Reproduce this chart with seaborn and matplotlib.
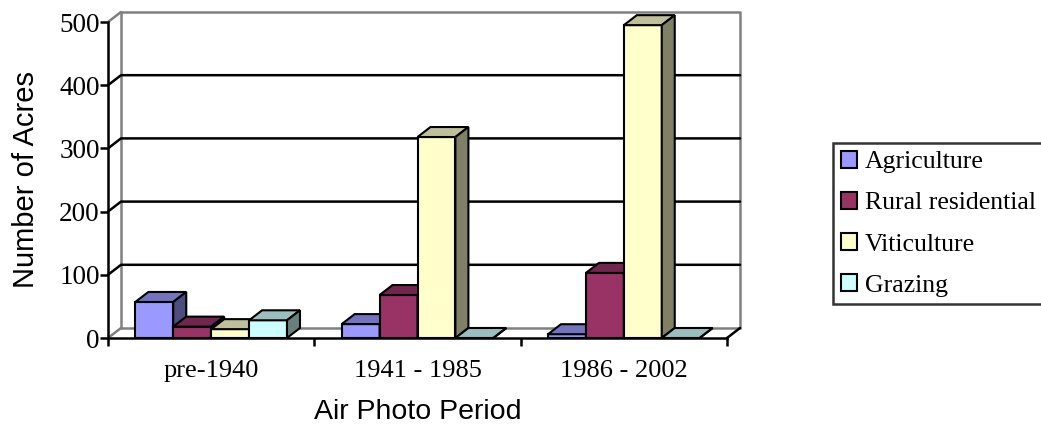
import numpy as np
import pandas as pd
import matplotlib
matplotlib.use('Agg')
import matplotlib.pyplot as plt
from matplotlib.patches import Polygon, Patch
import seaborn as sns

# values (acres)
periods = ['pre-1940', '1941 - 1985', '1986 - 2002']
uses = ['Agriculture', 'Rural residential', 'Viticulture', 'Grazing']
agriculture = [57, 22, 6]
rural_residential = [18, 68, 103]
viticulture = [14, 318, 495]
grazing = [28, 0, 0]

front_colors = ['#9999FF', '#993366', '#FFFFCC', '#CCFFFF']

df = pd.DataFrame({
    'period': periods * 4,
    'use': np.repeat(uses, 3),
    'acres': agriculture + rural_residential + viticulture + grazing,
})

sns.set_style('white')
plt.rcParams['font.family'] = ['Liberation Serif', 'DejaVu Serif']
for key in ['text.color', 'axes.labelcolor', 'xtick.color', 'ytick.color']:
    plt.rcParams[key] = 'black'

fig = plt.figure(figsize=(10.41, 4.28), dpi=100)
ax = fig.add_axes([108 / 1041, 90 / 428, 619 / 1041, 316 / 428])

sns.barplot(data=df, x='period', y='acres', hue='use', palette=front_colors,
            order=periods, hue_order=uses, width=0.735, edgecolor='black',
            linewidth=1.5, saturation=1, legend=False, ax=ax)

ax.set_xlim(-0.5, 2.5)
ax.set_ylim(0, 500)

# depth offset of the 3d box, in pixels -> data units
p0 = ax.transData.transform((0, 0))
back = ax.transData.inverted().transform(p0 + np.array([13, 10]))
DX, DY = back[0], back[1]

GREY = '#808080'
# back wall and floor
ax.plot([-0.5 + DX, -0.5 + DX, 2.5 + DX, 2.5 + DX], [DY, 500 + DY, 500 + DY, DY],
        color=GREY, lw=1.8, clip_on=False, zorder=1)
ax.plot([-0.5 + DX, 2.5 + DX], [DY, DY], color=GREY, lw=1.8, clip_on=False, zorder=1)
ax.plot([-0.5, -0.5 + DX], [0, DY], color=GREY, lw=1.8, clip_on=False, zorder=1)
ax.plot([-0.5, -0.5 + DX], [500, 500 + DY], color=GREY, lw=1.8, clip_on=False, zorder=1)
ax.plot([2.5, 2.5 + DX], [0, DY], color='black', lw=1.8, clip_on=False, zorder=1)
for v in [100, 200, 300, 400]:
    ax.plot([-0.5, -0.5 + DX, 2.5 + DX], [v, v + DY, v + DY],
            color='black', lw=1.8, clip_on=False, zorder=1)


def shade(c, f):
    r, g, b = matplotlib.colors.to_rgb(c)
    return (r * f, g * f, b * f)


# 3d tops and sides for each bar, drawn left to right
bars = sorted([p for p in ax.patches if isinstance(p, matplotlib.patches.Rectangle)],
              key=lambda p: p.get_x())
for i, bar in enumerate(bars):
    x0, w, h = bar.get_x(), bar.get_width(), bar.get_height()
    fc = bar.get_facecolor()
    z = 3 + i * 0.1
    bar.set_zorder(z)
    top = Polygon([(x0, h), (x0 + w, h), (x0 + w + DX, h + DY), (x0 + DX, h + DY)],
                  closed=True, facecolor=shade(fc, 0.75), edgecolor='black',
                  lw=1.5, zorder=z + 0.03, clip_on=False)
    side = Polygon([(x0 + w, 0), (x0 + w + DX, DY), (x0 + w + DX, h + DY), (x0 + w, h)],
                   closed=True, facecolor=shade(fc, 0.5), edgecolor='black',
                   lw=1.5, zorder=z + 0.06, clip_on=False)
    ax.add_patch(top)
    ax.add_patch(side)

sns.despine(ax=ax, top=True, right=True)
for s in ['left', 'bottom']:
    ax.spines[s].set_color('black')
    ax.spines[s].set_linewidth(1.8)
    ax.spines[s].set_zorder(10)

ax.set_yticks([0, 100, 200, 300, 400, 500])
ax.tick_params(axis='y', direction='out', length=6, width=1.8, color='black',
               labelcolor='black', labelsize=19.5, pad=0, left=True)
ax.set_xticks([0, 1, 2])
ax.set_xticks([-0.5, 0.5, 1.5, 2.5], minor=True)
ax.tick_params(axis='x', which='major', length=0, labelcolor='black', labelsize=19, pad=16)
ax.tick_params(axis='x', which='minor', direction='out', length=6, width=1.8,
               color='black', bottom=True)

ax.set_xlabel('Air Photo Period', family=['Liberation Sans'], fontsize=20.5,
              labelpad=12, color='black')
ax.set_ylabel('Number of Acres', family=['Liberation Sans'], fontsize=21,
              labelpad=14, color='black')

handles = [Patch(facecolor=c, edgecolor='black', lw=1.5) for c in front_colors]
leg = fig.legend(handles, uses, loc='upper left', bbox_to_anchor=(833 / 1041, 285 / 428),
                 frameon=True, fancybox=False, fontsize=18.5, handlelength=0.65,
                 handleheight=0.65, handletextpad=0.3, labelspacing=0.72,
                 borderpad=0.3, borderaxespad=0, labelcolor='black')
leg.get_frame().set_edgecolor('black')
leg.get_frame().set_linewidth(1.8)

fig.savefig('out.png', dpi=100)
